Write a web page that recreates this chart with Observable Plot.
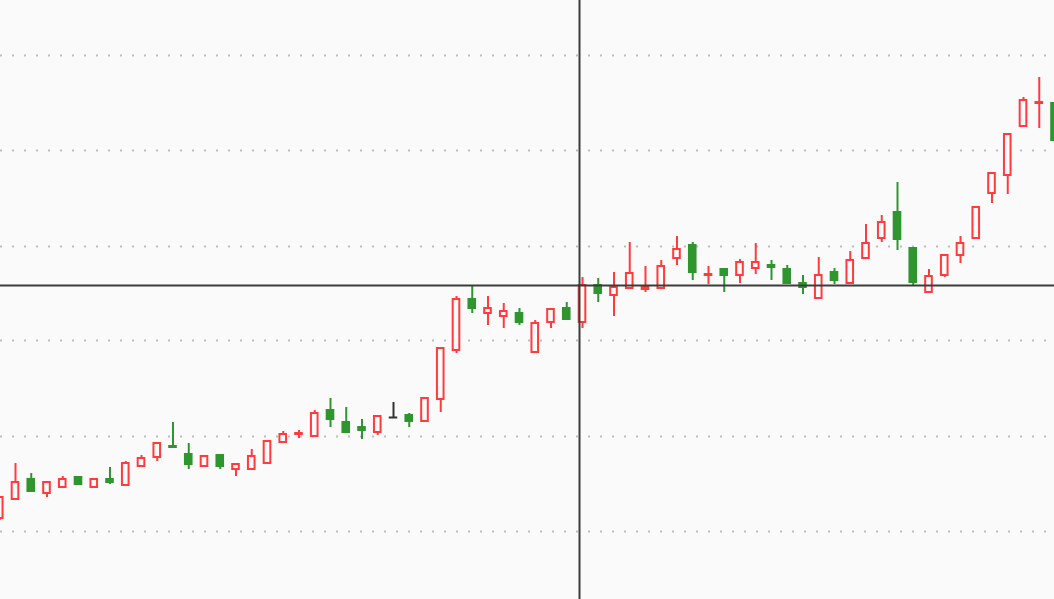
<!DOCTYPE html>
<html><head><meta charset="utf-8">
<script src="https://cdn.jsdelivr.net/npm/d3@7"></script>
<script src="https://cdn.jsdelivr.net/npm/@observablehq/plot@0.6"></script>
<style>html,body{margin:0;padding:0;background:#fafafa;overflow:hidden}</style>
</head><body><div id="chart"></div>
<script>
// OHLC series (arbitrary price units)
const open  = [8.2,10.1,12.1,10.7,11.3,12.3,11.3,12.1,11.5,13.4,14.3,15.4,14.6,13.4,14.5,13.1,13.1,13.7,15.8,16.6,
               16.4,19.0,17.8,17.3,16.8,18.3,18.5,17.9,20.1,25.0,30.1,28.7,28.4,28.7,24.8,27.8,29.2,27.8,31.5,30.5,
               31.2,31.1,31.2,34.2,35.5,32.5,33.1,32.5,33.2,33.5,33.1,31.7,30.2,32.8,31.7,34.2,36.2,38.8,35.2,30.8,
               32.5,34.5,36.2,40.7,42.5,47.4,49.7,49.7];
const high  = [10.3,13.7,12.7,11.8,12.4,12.3,12.1,13.3,13.9,14.5,15.7,17.8,15.7,14.4,14.5,13.6,15.1,15.9,16.9,17.0,
               19.0,20.2,19.3,18.1,18.4,19.8,18.7,20.2,25.2,30.4,31.5,30.4,29.7,29.2,28.0,29.1,29.8,32.3,32.2,32.8,
               35.8,33.4,34.0,36.4,35.8,33.4,33.1,34.1,35.7,34.0,33.5,32.5,34.3,33.2,34.9,37.6,38.5,41.8,35.2,33.1,
               34.5,36.4,39.3,42.7,46.6,50.3,52.3,49.7];
const low   = [8.0,10.1,10.9,10.3,11.3,11.6,11.3,11.6,11.5,13.4,13.9,15.3,13.1,13.4,13.1,12.4,13.1,13.7,15.8,16.2,
               16.4,17.3,16.7,16.1,16.5,18.3,17.3,17.9,18.8,24.7,28.7,27.5,27.2,27.5,24.8,27.2,28.1,27.2,29.8,28.4,
               31.2,30.8,31.2,33.5,32.0,31.6,30.8,31.7,32.6,32.0,31.7,30.6,30.2,31.6,31.7,34.2,35.8,35.0,31.5,30.8,
               32.3,33.7,36.2,39.7,40.6,47.4,47.2,46.0];
const close = [10.3,11.8,10.9,11.8,12.1,11.6,12.1,11.8,13.7,14.2,15.7,15.3,13.6,14.4,13.4,13.6,14.4,15.9,16.6,16.7,
               18.7,18.1,16.8,17.0,18.4,18.3,17.9,20.2,25.2,30.1,29.2,29.2,28.9,27.8,27.7,29.1,28.1,31.5,30.7,31.3,
               32.7,31.3,33.4,35.1,32.8,32.6,32.5,33.8,33.8,33.3,31.7,31.3,32.5,32.0,34.0,35.7,37.8,36.1,31.8,32.4,
               34.5,35.7,39.3,42.7,46.6,50.0,49.8,46.0];
const gridValues = [6.9, 16.4, 26.0, 35.4, 45.0, 54.5];
const crossIndex = 36.81;
const crossPrice = 31.5;

const data = open.map((o, i) => ({i, open: o, high: high[i], low: low[i], close: close[i]}));
const UP = "#ff3b3b", DOWN = "#2f962f", FLAT = "#333333", BG = "#fafafa";
const col = d => d.close > d.open ? UP : d.close < d.open ? DOWN : FLAT;

const chart = Plot.plot({
  width: 1054, height: 599, margin: 0,
  style: {background: BG, overflow: "hidden"},
  x: {type: "linear", domain: [0, 67], range: [-0.75, 1054.5], axis: null},
  y: {type: "linear", domain: [0.1, 60], range: [599, 0], axis: null},
  color: {type: "identity"},
  marks: [
    Plot.ruleY(gridValues, {stroke: "#bdbdbd", strokeWidth: 2, strokeDasharray: "2,10"}),
    Plot.ruleX(data, {x: "i", y1: "low", y2: "high", stroke: col, strokeWidth: 2}),
    Plot.rect(data, {x1: d => d.i - 0.21, x2: d => d.i + 0.21, y1: "open", y2: "close",
      stroke: col, fill: d => d.close > d.open ? BG : col(d), strokeWidth: 2}),
    Plot.ruleY(data.filter(d => d.open === d.close), {y: "open", x1: d => d.i - 0.27, x2: d => d.i + 0.27, stroke: FLAT, strokeWidth: 2}),
    Plot.ruleX([crossIndex], {stroke: "#3c3c3c", strokeWidth: 2}),
    Plot.ruleY([crossPrice], {stroke: "#3c3c3c", strokeWidth: 2})
  ]
});
document.getElementById("chart").appendChild(chart);
</script>
</body></html>
